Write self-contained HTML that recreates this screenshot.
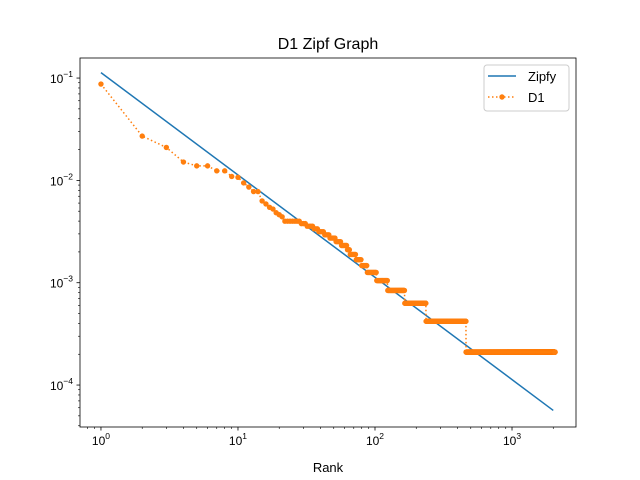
<!DOCTYPE html>
<html><head><meta charset="utf-8"><style>
html,body{margin:0;padding:0;background:#fff;}
svg{display:block;font-family:"Liberation Sans","DejaVu Sans",sans-serif;}
</style></head><body>
<svg id="chart" width="640" height="480" viewBox="0 0 640 480">
<rect width="640" height="480" fill="#fff"/>
<text x="328" y="49" font-size="16" text-anchor="middle">D1 Zipf Graph</text>
<g id="plot"></g>
<rect x="80" y="58" width="496" height="369" fill="none" stroke="#000" stroke-width="0.8"/>
<text x="328" y="472" font-size="13" text-anchor="middle">Rank</text>
<g>
<rect x="484" y="65" width="85" height="46" rx="3" fill="#fff" stroke="#ccc" stroke-width="1"/>
<line x1="488" y1="76" x2="516" y2="76" stroke="#1f77b4" stroke-width="1.5"/>
<text x="528" y="81" font-size="13">Zipfy</text>
<line x1="488" y1="97" x2="516" y2="97" stroke="#ff7f0e" stroke-width="1.5" stroke-dasharray="1.5,2.5"/>
<circle cx="502" cy="97" r="2.7" fill="#ff7f0e"/>
<text x="528" y="102" font-size="13">D1</text>
</g>
</svg>
<script>
const zipfRanks = [1, 2000];
const zipfValues = [0.113, 0.0000565];
// D1: individual top ranks then runs of [count, firstRank, lastRank]
const d1TopCounts = [416,129,100,72,66,66,59,59,52,51,45,41,37,37,30,28,26,25,23,22,21];
const d1RunCounts = [19,18,17,16,15,14,13,12,11,10,9,8,7,6,5,4,3,2,1];
const d1RunStarts = [22,29,32,36,39,43,47,52,57,63,66,73,80,88,103,124,165,236,462];
const d1RunEnds   = [28,31,35,38,42,46,51,56,62,65,72,79,87,102,123,164,235,461,2060];
const unitFreq = 0.00021;
const xTickExps = [0,1,2,3];
const yTickExps = [-4,-3,-2,-1];

const L=80,R=576,T=58,B=427;
const xMin=-0.153,xMax=3.467,yMin=-4.41,yMax=-0.804;
const sx=v=>L+(Math.log10(v)-xMin)/(xMax-xMin)*(R-L);
const sy=v=>B-(Math.log10(v)-yMin)/(yMax-yMin)*(B-T);
const NS="http://www.w3.org/2000/svg";
const g=document.getElementById('plot');
function mk(tag,attrs){const e=document.createElementNS(NS,tag);for(const k in attrs)e.setAttribute(k,attrs[k]);g.appendChild(e);return e;}

xTickExps.forEach(e=>{
  const x=sx(Math.pow(10,e));
  const t=mk('line',{x1:x,y1:B,x2:x,y2:B+3.5,stroke:'#000','stroke-width':0.8});
  
  
  const l=mk('text',{x:x,y:B+18,'font-size':12,'text-anchor':'middle'});
  
  
  l.innerHTML='10<tspan dy="-6" font-size="8.5">'+e+'</tspan>';
});
for(let e=-1;e<=3;e++)for(let m=2;m<=9;m++){
  const v=m*Math.pow(10,e);const x=sx(v);if(x<L||x>R)continue;
  const t=mk('line',{x1:x,y1:B,x2:x,y2:B+2,stroke:'#000','stroke-width':0.6});
  
  
}
yTickExps.forEach(e=>{
  const y=sy(Math.pow(10,e));
  const t=mk('line',{x1:L-3.5,y1:y,x2:L,y2:y,stroke:'#000','stroke-width':0.8});
  
  
  const l=mk('text',{x:L-7,y:y+5,'font-size':12,'text-anchor':'end'});
  
  
  l.innerHTML='10<tspan dy="-6" font-size="8.5">\u2212'+(-e)+'</tspan>';
});
for(let e=-5;e<=-1;e++)for(let m=2;m<=9;m++){
  const v=m*Math.pow(10,e);const y=sy(v);if(y<T||y>B)continue;
  const t=mk('line',{x1:L-2,y1:y,x2:L,y2:y,stroke:'#000','stroke-width':0.6});
  
  
}

const zl=mk('polyline',{points:zipfRanks.map((r,i)=>sx(r)+','+sy(zipfValues[i])).join(' '),fill:'none',stroke:'#1f77b4','stroke-width':1.5});



const pts=[];
d1TopCounts.forEach((c,i)=>pts.push([i+1,c*unitFreq]));
d1RunCounts.forEach((c,i)=>{for(let r=d1RunStarts[i];r<=d1RunEnds[i];r++)pts.push([r,c*unitFreq]);});
const dl=mk('polyline',{points:pts.map(p=>sx(p[0])+','+sy(p[1])).join(' '),fill:'none',stroke:'#ff7f0e','stroke-width':1.5,'stroke-dasharray':'1.5,2.5'});


pts.forEach(p=>{
  const c=mk('circle',{cx:sx(p[0]),cy:sy(p[1]),r:2.7,fill:'#ff7f0e'});
  
  
});
</script>
</body></html>
